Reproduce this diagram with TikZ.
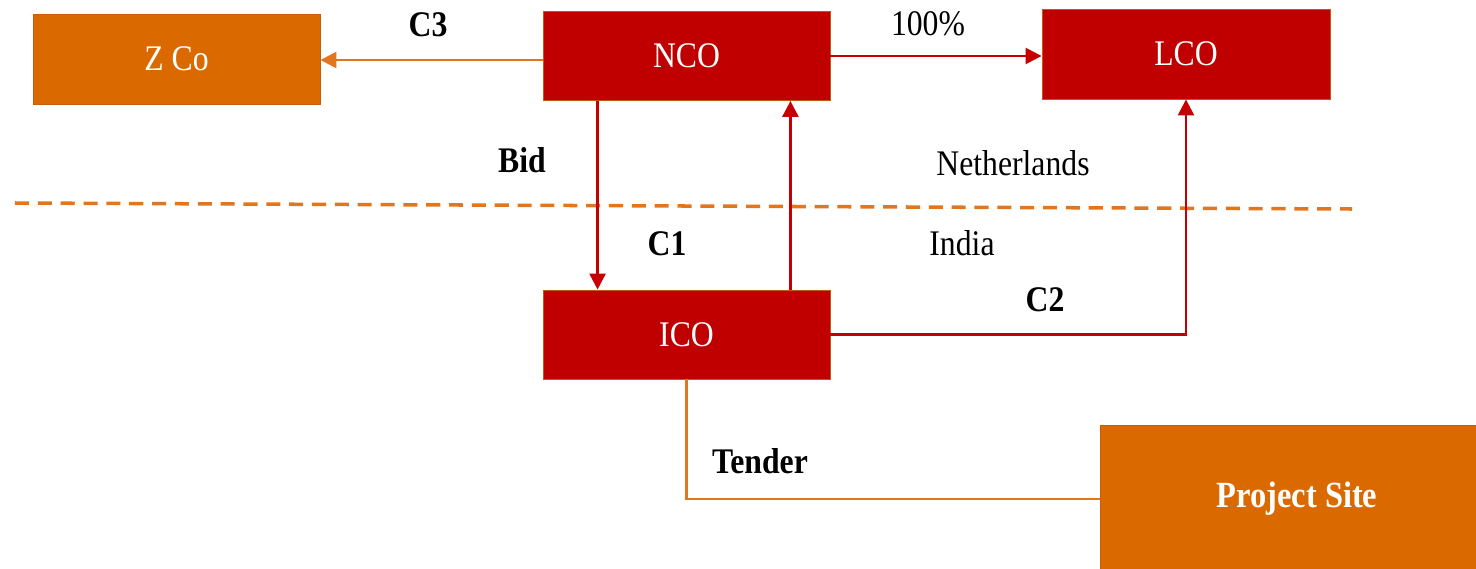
\documentclass[tikz,border=0pt]{standalone}
\usepackage{fontspec}
\setmainfont[FakeStretch=0.88]{Liberation Serif}
\usepackage{tikz}
\usetikzlibrary{arrows.meta, positioning, calc}
\definecolor{boxred}{RGB}{192,0,0}
\definecolor{boxorange}{RGB}{218,106,0}
\definecolor{lineorange}{RGB}{226,118,30}
\definecolor{edgebrown}{RGB}{190,90,20}
\tikzset{
	every text node part/.style = {align=center},
	redbox/.style = {
		fill=boxred, draw=edgebrown, line width=0.5pt,
		minimum width=5.74cm, minimum height=1.78cm,
		text=white, inner sep=0pt
	},
	orangebox/.style = {
		fill=boxorange, draw=edgebrown!80!boxorange, line width=0.5pt,
		text=white, inner sep=0pt
	},
	redline/.style = {
		color=boxred!90!red, line width=1.5pt
	},
	orangeline/.style = {
		color=lineorange, line width=1.5pt
	},
	tip/.style = {-{Triangle[length=3.2mm,width=3.2mm]}}
}

\begin{document}
\begin{tikzpicture}
	\useasboundingbox (0,0) rectangle (29.52,11.36);
	\tikzstyle{every node}=[font=\fontsize{20.5}{24}\selectfont]
	
	% boxes
	\node [orangebox, minimum width=5.74cm, minimum height=1.8cm] (zco) at (3.53,10.18) {Z Co};
	\node [redbox] (nco) at (13.73,10.24) {NCO};
	\node [redbox, minimum width=5.76cm, minimum height=1.8cm] (lco) at (23.72,10.28) {LCO};
	\node [redbox] (ico) at (13.73,4.67) {ICO};
	\node [orangebox, minimum width=7.88cm, minimum height=2.96cm, font=\fontsize{21}{24}\selectfont\bfseries] (site) at (25.94,1.38) {Project Site};
	
	% border line
	\coordinate (dashL) at (0.3,7.30);
	\coordinate (dashR) at (27.04,7.18);
	\draw [orangeline, line width=2pt, dash pattern=on 8pt off 5pt] (dashL) -- (dashR);
	
	% connectors
	\draw [orangeline, tip] ([yshift=-0.08cm]nco.west) -- ([yshift=-0.08cm]nco.west -| zco.east);
	\draw [redline, tip] (nco.east) -- (nco.east -| lco.west);
	\draw [redline, tip] ([xshift=1.1cm]nco.south west) -- ([xshift=1.1cm]ico.north west);
	\draw [redline, tip] ([xshift=-0.8cm]ico.north east) -- ([xshift=-0.8cm]nco.south east);
	\draw [redline, tip] (ico.east) -| (lco.south);
	\draw [orangeline] (ico.south) |- (site.west);
	
	% labels
	\node [font=\fontsize{20.5}{24}\selectfont\bfseries] (lblC3) at (8.56,10.86) {C3};
	\node (lblPct) at (18.56,10.88) {100\%};
	\node [font=\fontsize{20.5}{24}\selectfont\bfseries] (lblBid) at (10.44,8.16) {Bid};
	\node (lblNL) at (20.26,8.10) {Netherlands};
	\node (lblIN) at (19.24,6.50) {India};
	\node [font=\fontsize{20.5}{24}\selectfont\bfseries] (lblC1) at (13.34,6.48) {C1};
	\node [font=\fontsize{20.5}{24}\selectfont\bfseries] (lblC2) at (20.90,5.36) {C2};
	\node [font=\fontsize{20.5}{24}\selectfont\bfseries] (lblTender) at (15.20,2.14) {Tender};
	
\end{tikzpicture}
\end{document}
